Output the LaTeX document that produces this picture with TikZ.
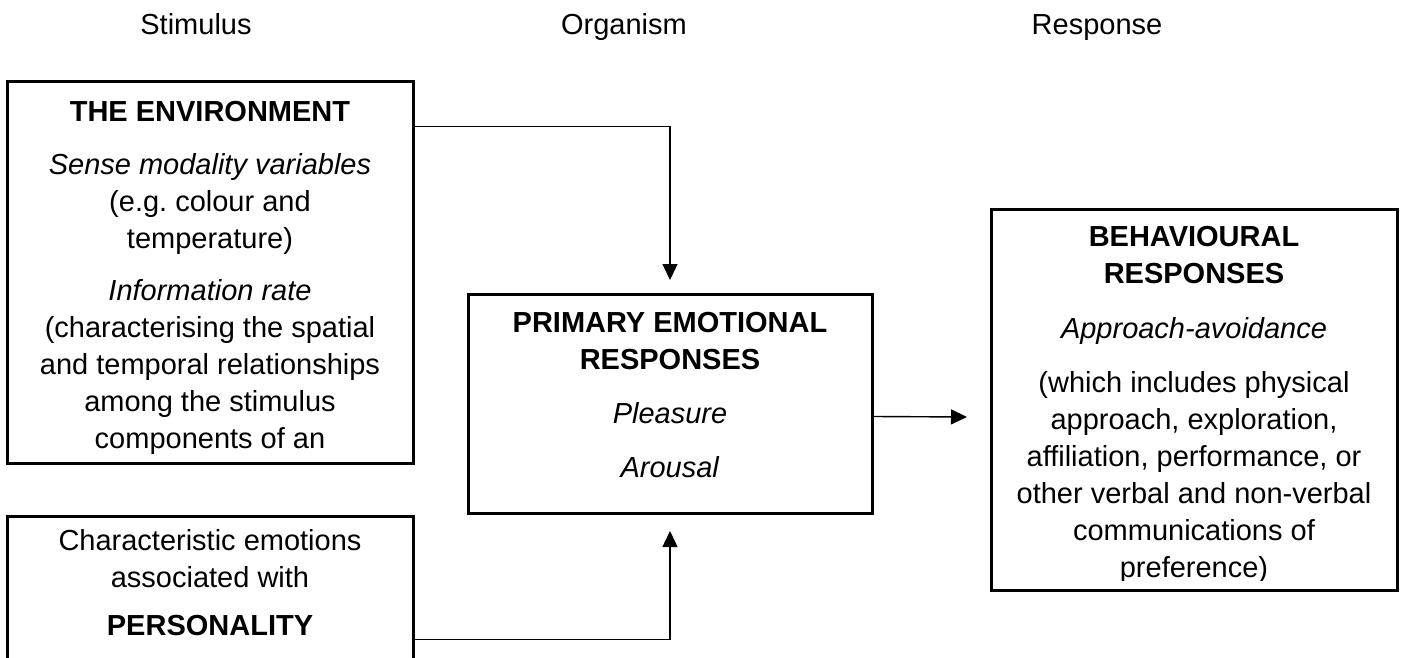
\documentclass[tikz,border=0pt]{standalone}
\usepackage{fontspec}
\setmainfont{Liberation Sans}
\usetikzlibrary{arrows.meta}
\frenchspacing
\begin{document}
\begin{tikzpicture}[x=1pt,y=-1pt,
  boxst/.style={draw=black,line width=3pt,inner sep=0pt},
  txt/.style={inner sep=0pt,align=center,anchor=north,font=\fontsize{29}{37}\selectfont},
  lbl/.style={inner sep=0pt,anchor=base,font=\fontsize{29}{37}\selectfont},
  conn/.style={draw=black,line width=1.4pt,-{Triangle[length=16pt,width=15pt]}}]
\useasboundingbox (0,0) rectangle (1401,658);
% column labels
\node[lbl] (ls) at (196,35) {Stimulus};
\node[lbl] (lo) at (624,35) {Organism};
\node[lbl] (lr) at (1097,35) {Response};
% boxes
\node[boxst,minimum width=406pt,minimum height=381pt] (env) at (210,272.5) {};
\node[boxst,minimum width=406pt,minimum height=200pt] (pers) at (210,616) {};
\node[boxst,minimum width=404pt,minimum height=219pt] (cen) at (670,403.5) {};
\node[boxst,minimum width=406pt,minimum height=381pt] (beh) at (1194,399.5) {};
% texts
\node[txt] (envt) at (210,101) {\textbf{THE ENVIRONMENT}\\[16pt]
  \textit{Sense modality variables}\\
  (e.g. colour and\\ temperature)\\[15pt]
  \textit{Information rate}\\
  (characterising the spatial\\ and temporal relationships\\
  among the stimulus\\ components of an};
\node[txt] (perst) at (210,529) {Characteristic emotions\\ associated with\\[11pt]
  \textbf{PERSONALITY}};
\node[txt] (cent) at (670,312) {\textbf{PRIMARY EMOTIONAL}\\ \textbf{RESPONSES}\\[17pt]
  \textit{Pleasure}\\[17pt] \textit{Arousal}};
\begin{scope}
\clip (992,210) rectangle (1396,580);
\node[txt] (beht) at (1194,226) {\textbf{BEHAVIOURAL}\\ \textbf{RESPONSES}\\[18pt]
  \textit{Approach-avoidance}\\[17pt]
  (which includes physical\\ approach, exploration,\\
  affiliation, performance, or\\ other verbal and non-verbal\\
  communications of\\ preference)};
\end{scope}
% connectors
\coordinate (t1) at (670,280);
\coordinate (t2) at (670,531);
\coordinate (t3) at (967,417);
\draw[conn] ([yshift=-46pt]env.north east) -| (t1);
\draw[conn] ([yshift=-125pt]pers.north east) -| (t2);
\draw[conn] ([yshift=-13pt]cen.east) -- (t3);
\end{tikzpicture}
\end{document}
